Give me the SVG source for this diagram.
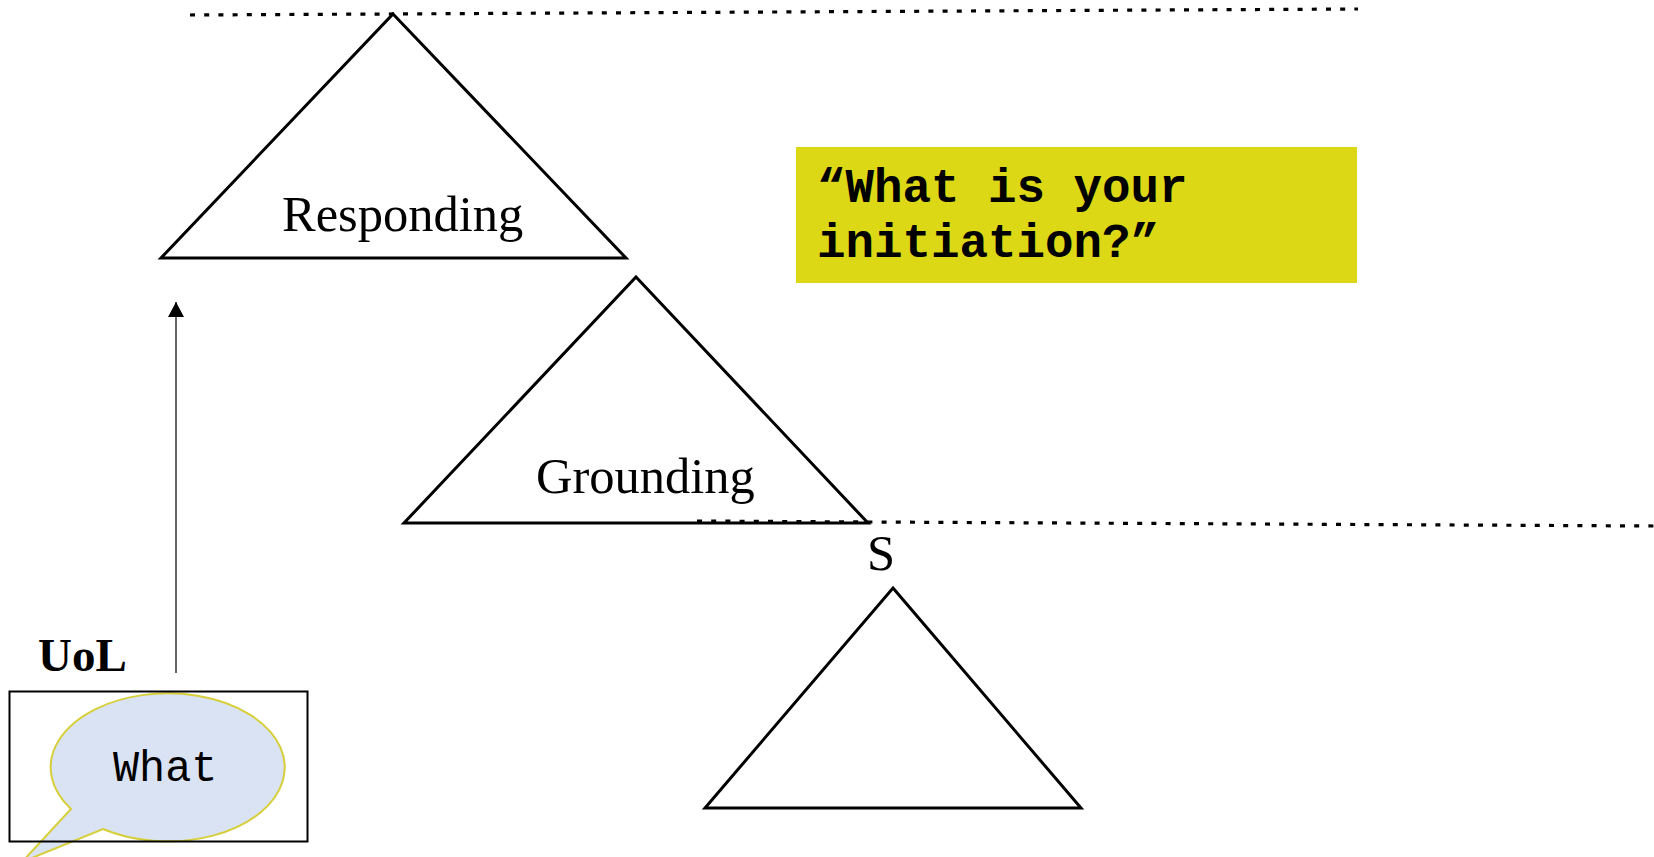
<svg xmlns="http://www.w3.org/2000/svg" width="1654" height="857" viewBox="0 0 1654 857">
<style>
.tri{fill:#fff;stroke:#000;stroke-width:3;stroke-linejoin:miter}
.lbl{font-family:"Liberation Serif",serif;font-size:50.5px;fill:#000}
.mono{font-family:"Liberation Mono",monospace;fill:#000}
.dot{fill:none;stroke:#000;stroke-width:3.200;stroke-dasharray:5 9.200}
</style>
<defs>
<marker id="ah" markerUnits="userSpaceOnUse" markerWidth="16" markerHeight="16" refX="15" refY="8" orient="auto"><path d="M0 0L15 8L0 16Z" fill="#000"/></marker>
</defs>
<rect width="1654" height="857" fill="#fff"/>
<g id="node-responding"><path class="tri" d="M393 14L626 258H161Z"/><text class="lbl" x="282" y="231">Responding</text></g>
<g id="node-grounding"><path class="tri" d="M636 277L868 523H404Z"/><text class="lbl" x="536" y="493">Grounding</text></g>
<g id="node-s"><text class="lbl" x="867" y="570">S</text><path class="tri" d="M893 588L1081 808H705Z"/></g>
<g id="node-question"><rect x="796" y="147" width="561" height="136" fill="#DDD815"/>
<text class="mono" font-weight="700" font-size="47.500px" x="817" y="202">“What is your</text>
<text class="mono" font-weight="700" font-size="47.500px" x="817" y="257">initiation?”</text></g>
<g id="node-uol"><text font-family="'Liberation Serif',serif" font-weight="700" font-size="47px" x="38" y="671">UoL</text>
<path d="M71 809A117 74 0 1 1 103 829L22 862Z" fill="#DAE3F3" stroke="#D6CF3A" stroke-width="2"/>
<rect x="9.500" y="691.500" width="298" height="150" fill="none" stroke="#000" stroke-width="2"/>
<text class="mono" font-size="43.500px" x="113" y="781">What</text></g>
<g id="connectors">
<path class="dot" d="M190 15L1358 9"/>
<path class="dot" d="M697 521L868 522L1654 526"/>
<path d="M176 673V302" fill="none" stroke="#333" stroke-width="1.500" marker-end="url(#ah)"/>
</g>
</svg>
